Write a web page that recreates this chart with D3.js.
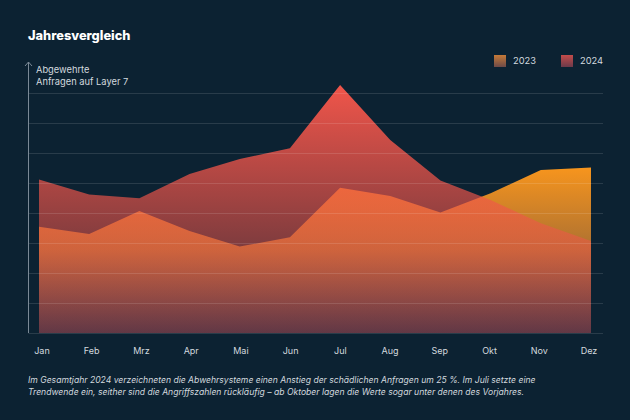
<!DOCTYPE html>
<html><head><meta charset="utf-8">
<script src="https://cdn.jsdelivr.net/npm/d3@7"></script>
<style>
html,body{margin:0;padding:0;background:#0c2232;}
svg{display:block;}
text{font-family:Inter,"Noto Sans",sans-serif;}
</style></head>
<body>
<svg id="c" width="630" height="420"></svg>
<script>
const months = ["Jan","Feb","Mrz","Apr","Mai","Jun","Jul","Aug","Sep","Okt","Nov","Dez"];
const v2023 = [35.4,33,40.7,34,28.8,31.9,48.4,45.7,40.2,46.6,54.3,55.2];
const v2024 = [51.2,46.2,44.9,53,58,61.6,82.7,64.3,50.8,44.3,36.6,30.7];
const yTicks = [0,10,20,30,40,50,60,70,80];
const seriesNames = ["2023","2024"];
const title = "Jahresvergleich";
const yLabel = ["Abgewehrte","Anfragen auf Layer 7"];
const caption = ["Im Gesamtjahr 2024 verzeichneten die Abwehrsysteme einen Anstieg der schädlichen Anfragen um 25 %. Im Juli setzte eine",
 "Trendwende ein, seither sind die Angriffszahlen rückläufig – ab Oktober lagen die Werte sogar unter denen des Vorjahres."];

const svg = d3.select("#c");
svg.append("rect").attr("width",630).attr("height",420).attr("fill","#0c2232");

const x = d3.scalePoint().domain(months).range([39,591]);
const xl = d3.scalePoint().domain(months).range([42,589]);
const y = d3.scaleLinear().domain([0,80]).range([333,93]);

const defs = svg.append("defs");
function grad(id, y1, y2, stops){
  const g = defs.append("linearGradient").attr("id",id).attr("gradientUnits","userSpaceOnUse")
    .attr("x1",0).attr("x2",0).attr("y1",y1).attr("y2",y2);
  stops.forEach(s=>g.append("stop").attr("offset",s[0]).attr("stop-color",s[1]).attr("stop-opacity",s[2]));
}
grad("g23", y(d3.max(v2023)), y(0), [[0,"#f7951d",1],[0.5,"#e08a30",0.76],[1,"#8a4a68",0.32]]);
grad("g24", y(d3.max(v2024)), y(0), [[0,"#f0554a",1],[1,"#f0554a",0.24]]);

const area = vals => d3.area().x((d,i)=>x(months[i])).y0(y(0)).y1(d=>y(d))(vals);

svg.append("path").attr("d",area(v2023)).attr("fill","url(#g23)");
svg.append("path").attr("d",area(v2024)).attr("fill","url(#g24)");

// gridlines
svg.append("g").selectAll("line").data(yTicks).join("line")
  .attr("x1",28.5).attr("x2",603).attr("y1",d=>Math.round(y(d))+0.5).attr("y2",d=>Math.round(y(d))+0.5)
  .attr("stroke","#ffffff").attr("stroke-opacity",0.12).attr("stroke-width",1);

// y axis with arrow
svg.append("line").attr("x1",28.5).attr("x2",28.5).attr("y1",y(0)).attr("y2",62)
  .attr("stroke","#7a8996").attr("stroke-width",1);
svg.append("path").attr("d","M25,66L28.5,62L32,66").attr("fill","none").attr("stroke","#7a8996").attr("stroke-width",1);

svg.append("g").selectAll("text").data(yLabel).join("text")
  .attr("x",36).attr("y",(d,i)=>73+i*11.5).attr("fill","#d3d9df").attr("font-size",9.3).text(d=>d);

// x labels
svg.append("g").selectAll("text").data(months).join("text")
  .attr("x",d=>xl(d)).attr("y",354).attr("text-anchor","middle")
  .attr("fill","#d3d9df").attr("font-size",9).text(d=>d);

// title
svg.append("text").attr("x",28).attr("y",40).attr("fill","#ffffff").attr("font-size",12.8)
  .attr("font-weight","800").text(title);

// legend
const lg = [{n:seriesNames[0],x:494,c1:"#c57a38",c2:"#6e4a48"},{n:seriesNames[1],x:561,c1:"#c44c4a",c2:"#6c3a4a"}];
lg.forEach((l,i)=>{
  const id="lg"+i;
  const g=defs.append("linearGradient").attr("id",id).attr("x1",0).attr("x2",0).attr("y1",0).attr("y2",1);
  g.append("stop").attr("offset",0).attr("stop-color",l.c1);
  g.append("stop").attr("offset",1).attr("stop-color",l.c2);
  svg.append("rect").attr("x",l.x).attr("y",55).attr("width",12).attr("height",12).attr("fill","url(#"+id+")");
  svg.append("text").attr("x",l.x+19).attr("y",64).attr("fill","#d3d9df").attr("font-size",9.3).text(l.n);
});

// caption
svg.append("g").selectAll("text").data(caption).join("text")
  .attr("x",28).attr("y",(d,i)=>383+i*12).attr("fill","#d3d9df").attr("font-size",8.6)
  .attr("font-style","italic").text(d=>d);
</script>
</body></html>
